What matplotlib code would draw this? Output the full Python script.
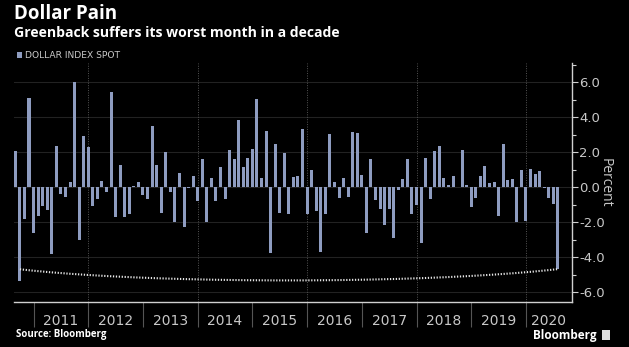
import numpy as np
import matplotlib
matplotlib.use("Agg")
import matplotlib.pyplot as plt
from matplotlib.ticker import FixedLocator, NullFormatter, FixedFormatter
import matplotlib.patches as mpatches

# ---- data: monthly % change of the Dollar Index Spot, Aug 2010 .. Jul 2020 ----
start_year, start_month = 2010, 8
values = [
    2.06, -5.35, -1.83, 5.07, -2.65, -1.64, -1.07, -1.31, -3.83, 2.34,
    -0.42, -0.55, 0.29, 5.98, -3.03, 2.91, 2.30, -1.07, -0.67, 0.34,
    -0.27, 5.43, -1.70, 1.26, -1.70, -1.54, 0.05, 0.30, -0.44, -0.69,
    3.49, 1.26, -1.47, 2.00, -0.27, -1.98, 0.80, -2.27, -0.03, 0.63,
    -0.78, 1.60, -1.98, 0.53, -0.78, 1.14, -0.70, 2.11, 1.60, 3.83,
    1.14, 1.66, 2.17, 5.01, 0.53, 3.20, -3.79, 2.46, -1.47, 1.92,
    -1.54, 0.57, 0.63, 3.31, -1.54, 0.99, -1.37, -3.70, -1.56, 3.01,
    0.27, -0.61, 0.51, -0.55, 3.14, 3.10, 0.69, -2.61, 1.60, -0.74,
    -1.28, -2.17, -1.28, -2.90, -0.17, 0.46, 1.58, -1.56, -1.03, -3.22,
    1.64, -0.67, 2.06, 2.32, 0.50, 0.10, 0.61, 0.02, 2.09, 0.13,
    -1.12, -0.61, 0.63, 1.20, 0.22, 0.29, -1.64, 2.46, 0.42, 0.47,
    -2.02, 0.97, -1.96, 1.03, 0.74, 0.91, -0.04, -0.65, -0.95, -4.69,
]
years = [2011, 2012, 2013, 2014, 2015, 2016, 2017, 2018, 2019, 2020]
y_ticks = [-6.0, -4.0, -2.0, 0.0, 2.0, 4.0, 6.0]
series_name = "DOLLAR INDEX SPOT"

BG = "#000000"
BAR = "#8e9cc0"
TXT = "#c8c8c8"
NARROW = ["Liberation Sans Narrow", "DejaVu Sans"]
BOLD = ["Open Sans", "DejaVu Sans"]

n = len(values)
x = np.arange(n)
# a bar is drawn at its month end; year Y starts at end of Dec of Y-1
boundaries = [(y - 1 - start_year) * 12 + (12 - start_month) for y in years]

W, H = 629, 347
fig = plt.figure(figsize=(W / 100, H / 100), dpi=100, facecolor=BG)
left, right, top, bottom = 13.5, 572, 63, 302
ax = fig.add_axes([left / W, 1 - bottom / H, (right - left) / W, (bottom - top) / H])
ax.set_facecolor(BG)

ax.bar(x, values, width=0.66, color=BAR, zorder=3)

ax.set_xlim(-0.4, 122.1)
ax.set_ylim(-6.57, 7.09)

# horizontal grid
for v in y_ticks:
    ax.axhline(v, color="#222222", lw=0.8, zorder=1)
# dotted vertical grid every other year
for b in boundaries[1::2]:
    ax.axvline(b, color="#555555", lw=0.7, ls=(0, (1, 1.5)), zorder=1)

# annotation curve linking the latest bar level across the decade
lvl = values[-1]
p0 = np.array([1.0, lvl - 0.01])
p3 = np.array([float(n - 1), lvl])
p1 = np.array([30.0, lvl - 0.86])
p2 = np.array([90.0, lvl - 0.86])
t = np.linspace(0, 1, 200)[:, None]
curve = (1 - t) ** 3 * p0 + 3 * (1 - t) ** 2 * t * p1 + 3 * (1 - t) * t ** 2 * p2 + t ** 3 * p3
ax.plot(curve[:, 0], curve[:, 1], color="#e6e6e6", lw=1.5, ls=(0, (0.6, 0.8)), zorder=4)

# spines
for s in ["left", "top"]:
    ax.spines[s].set_visible(False)
for s in ["right", "bottom"]:
    ax.spines[s].set_color("#d0d0d0")
    ax.spines[s].set_linewidth(1.0)

# y axis on right
ax.yaxis.tick_right()
ax.yaxis.set_label_position("right")
ax.set_yticks(y_ticks)
ax.set_yticklabels([f"{v:.1f}" for v in y_ticks], family=NARROW, fontsize=9.5, color=TXT)
ax.yaxis.set_minor_locator(FixedLocator([-5, -3, -1, 1, 3, 5, 7]))
ax.tick_params(axis="y", which="major", length=4, width=0.8, color="#d0d0d0", pad=1)
ax.tick_params(axis="y", which="minor", length=3, width=0.8, color="#d0d0d0")
ax.set_ylabel("Percent", rotation=270, color=TXT, fontsize=10, family=BOLD, labelpad=6)

# x axis: year separators (major) and centred year labels (minor)
ends = boundaries[1:] + [ax.get_xlim()[1]]
centers = [(a + b) / 2 for a, b in zip(boundaries, ends)]
ax.xaxis.set_major_locator(FixedLocator(boundaries))
ax.xaxis.set_major_formatter(NullFormatter())
ax.xaxis.set_minor_locator(FixedLocator(centers))
ax.xaxis.set_minor_formatter(FixedFormatter([str(y) for y in years]))
ax.tick_params(axis="x", which="major", length=18, width=0.8, color="#555555", direction="out")
ax.tick_params(axis="x", which="minor", length=0, pad=8.5, labelsize=10, labelcolor=TXT)
for lab in ax.xaxis.get_minorticklabels():
    lab.set_family(NARROW)

# titles
fig.text(14 / W, 1 - 4 / H, "Dollar Pain", color="white", fontsize=13.5, fontweight="bold",
         family=BOLD, va="top", ha="left")
fig.text(14 / W, 1 - 26 / H, "Greenback suffers its worst month in a decade", color="white",
         fontsize=10.1, fontweight="bold", family=BOLD, va="top", ha="left")
# legend
fig.patches.append(mpatches.Rectangle((17 / W, 1 - 57.5 / H), 5 / W, 5 / H, transform=fig.transFigure,
                                      facecolor=BAR, edgecolor="none"))
fig.text(25 / W, 1 - 55 / H, series_name, color=TXT, fontsize=6.6, family=NARROW, va="center", ha="left")

# footer
fig.text(16 / W, 1 - 334 / H, "Source: Bloomberg", color="white", fontsize=7, fontweight="bold",
         family=BOLD, va="center", ha="left")
fig.text(597 / W, 1 - 335 / H, "Bloomberg", color="white", fontsize=8.5, fontweight="bold",
         family=BOLD, va="center", ha="right")
fig.patches.append(mpatches.Rectangle((602 / W, 1 - 340 / H), 8 / W, 10 / H, transform=fig.transFigure,
                                      facecolor="#dddddd", edgecolor="none"))

fig.savefig("out.png", dpi=100, facecolor=BG)
